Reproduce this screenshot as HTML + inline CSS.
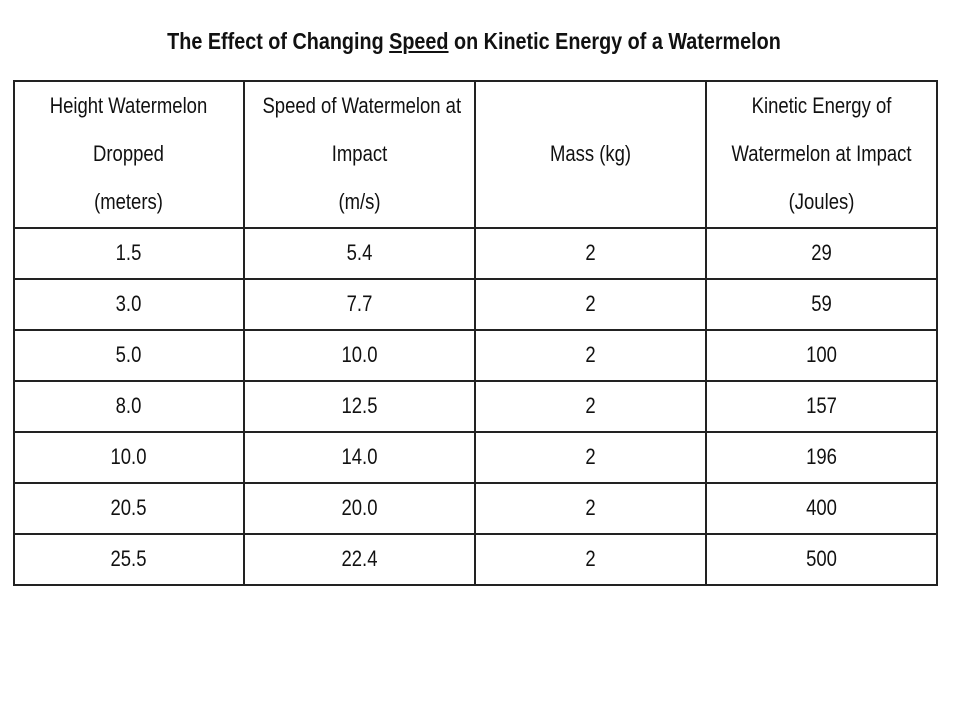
<!DOCTYPE html>
<html><head><meta charset="utf-8"><style>
body{margin:0;width:960px;height:720px;background:#fff;position:relative;overflow:hidden;font-family:"Liberation Sans",sans-serif;color:#111}
.title{position:absolute;left:0;width:948px;top:28px;text-align:center;font-weight:bold;font-size:23px;white-space:nowrap;transform:scaleX(0.86)}
.t{position:absolute;text-align:center;font-size:22px;line-height:48px;white-space:nowrap;transform:scaleX(0.84)}
.h{position:absolute;background:#222}
</style></head><body>
<div class="title">The Effect of Changing <u>Speed</u> on Kinetic Energy of a Watermelon</div>
<div class="h" style="left:13px;top:80px;width:925px;height:2px"></div>
<div class="h" style="left:13px;top:227px;width:925px;height:2px"></div>
<div class="h" style="left:13px;top:278px;width:925px;height:2px"></div>
<div class="h" style="left:13px;top:329px;width:925px;height:2px"></div>
<div class="h" style="left:13px;top:380px;width:925px;height:2px"></div>
<div class="h" style="left:13px;top:431px;width:925px;height:2px"></div>
<div class="h" style="left:13px;top:482px;width:925px;height:2px"></div>
<div class="h" style="left:13px;top:533px;width:925px;height:2px"></div>
<div class="h" style="left:13px;top:584px;width:925px;height:2px"></div>
<div class="h" style="left:13px;top:80px;width:2px;height:506px"></div>
<div class="h" style="left:243px;top:80px;width:2px;height:506px"></div>
<div class="h" style="left:474px;top:80px;width:2px;height:506px"></div>
<div class="h" style="left:705px;top:80px;width:2px;height:506px"></div>
<div class="h" style="left:936px;top:80px;width:2px;height:506px"></div>
<div class="t" style="left:13px;width:231px;top:82px">Height Watermelon<br>Dropped<br>(meters)</div>
<div class="t" style="left:244px;width:231px;top:82px">Speed of Watermelon at<br>Impact<br>(m/s)</div>
<div class="t" style="left:475px;width:231px;top:130px">Mass (kg)</div>
<div class="t" style="left:706px;width:231px;top:82px">Kinetic Energy of<br>Watermelon at Impact<br>(Joules)</div>

<div class="t" style="left:13px;width:231px;top:229px">1.5</div>
<div class="t" style="left:244px;width:231px;top:229px">5.4</div>
<div class="t" style="left:475px;width:231px;top:229px">2</div>
<div class="t" style="left:706px;width:231px;top:229px">29</div>

<div class="t" style="left:13px;width:231px;top:280px">3.0</div>
<div class="t" style="left:244px;width:231px;top:280px">7.7</div>
<div class="t" style="left:475px;width:231px;top:280px">2</div>
<div class="t" style="left:706px;width:231px;top:280px">59</div>

<div class="t" style="left:13px;width:231px;top:331px">5.0</div>
<div class="t" style="left:244px;width:231px;top:331px">10.0</div>
<div class="t" style="left:475px;width:231px;top:331px">2</div>
<div class="t" style="left:706px;width:231px;top:331px">100</div>

<div class="t" style="left:13px;width:231px;top:382px">8.0</div>
<div class="t" style="left:244px;width:231px;top:382px">12.5</div>
<div class="t" style="left:475px;width:231px;top:382px">2</div>
<div class="t" style="left:706px;width:231px;top:382px">157</div>

<div class="t" style="left:13px;width:231px;top:433px">10.0</div>
<div class="t" style="left:244px;width:231px;top:433px">14.0</div>
<div class="t" style="left:475px;width:231px;top:433px">2</div>
<div class="t" style="left:706px;width:231px;top:433px">196</div>

<div class="t" style="left:13px;width:231px;top:484px">20.5</div>
<div class="t" style="left:244px;width:231px;top:484px">20.0</div>
<div class="t" style="left:475px;width:231px;top:484px">2</div>
<div class="t" style="left:706px;width:231px;top:484px">400</div>

<div class="t" style="left:13px;width:231px;top:535px">25.5</div>
<div class="t" style="left:244px;width:231px;top:535px">22.4</div>
<div class="t" style="left:475px;width:231px;top:535px">2</div>
<div class="t" style="left:706px;width:231px;top:535px">500</div>
</body></html>
